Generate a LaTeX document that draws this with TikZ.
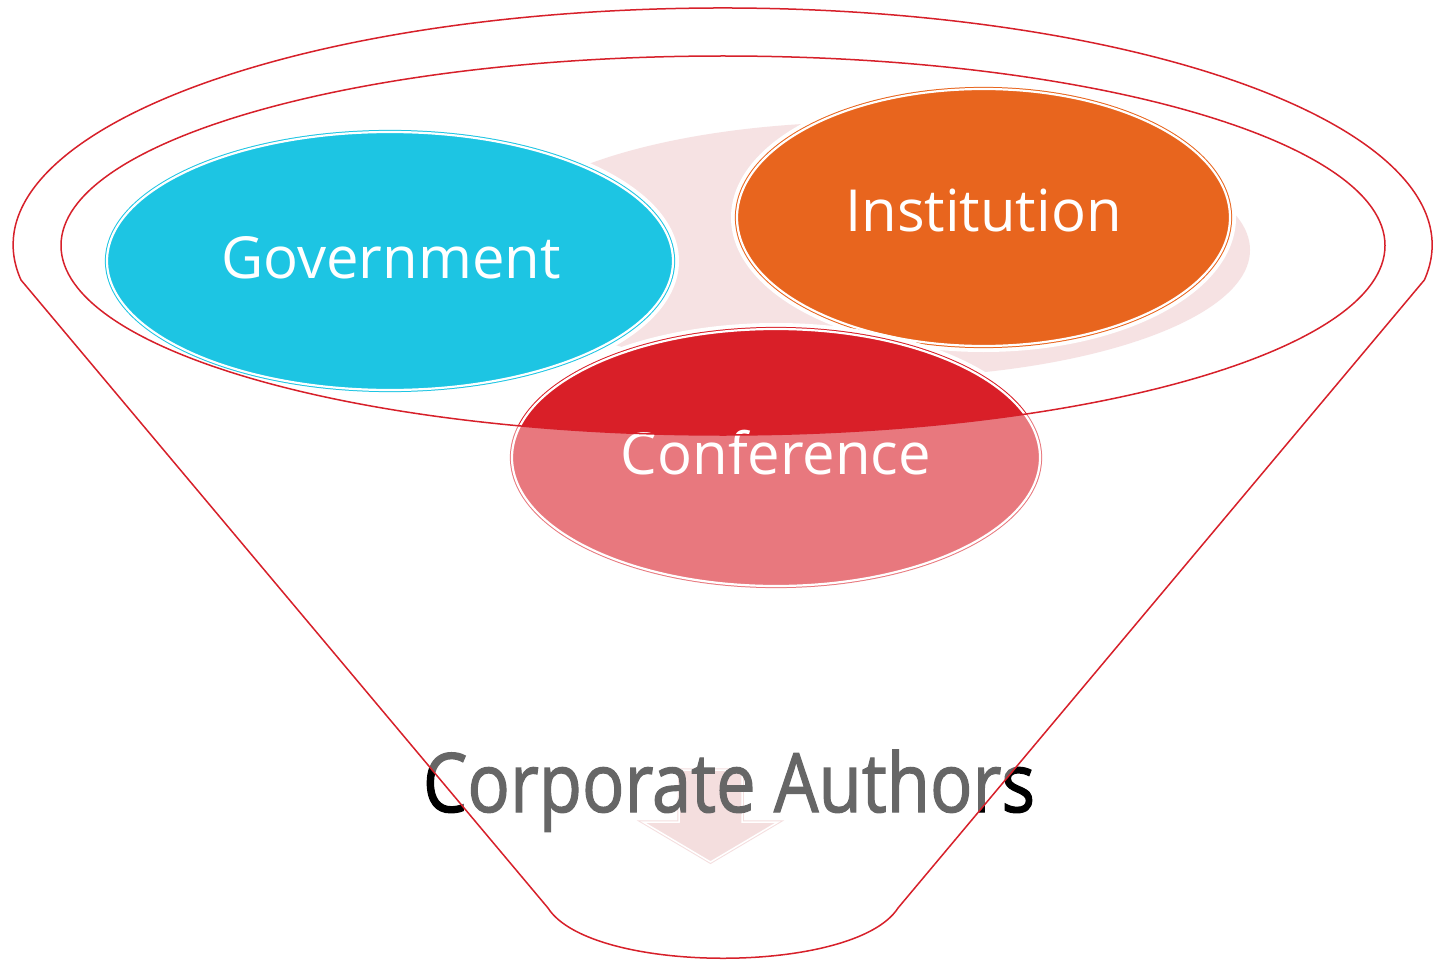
\documentclass[tikz,border=0pt]{standalone}
\usepackage{fontspec}
\usepackage{graphicx}
\setmainfont{Open Sans}
\newfontfamily\corpfont[FakeBold=1.6]{Open Sans}
\usetikzlibrary{shapes.geometric}
\definecolor{govc}{HTML}{1DC5E3}
\definecolor{instc}{HTML}{E8651E}
\definecolor{confc}{HTML}{D91F28}
\definecolor{pinkbg}{HTML}{F6E2E3}
\definecolor{arrowc}{HTML}{EEC8C9}
\definecolor{funnelred}{HTML}{D7202A}
\tikzset{
  bubble/.style={ellipse, inner sep=0pt, line width=1pt, double=white, double distance=2.2pt},
  halo/.style={draw=white, line width=12pt},
  bubbletext/.style={anchor=base, text=white, font=\fontsize{58}{64}\selectfont},
  funnelline/.style={draw=funnelred, line width=1.5pt},
}
\begin{document}
\begin{tikzpicture}[x=1pt,y=-1pt]
\useasboundingbox (0,0) rectangle (1437,960);
\fill[white] (0,0) rectangle (1437,960);
% pale background shape
\fill[pinkbg] (870,250) ellipse [x radius=380pt, y radius=128pt];
% Government
\draw[halo] (390,261) ellipse [x radius=283pt, y radius=129pt];
\node[bubble, fill=govc, draw=govc, minimum width=566pt, minimum height=258pt] (gov) at (390,261) {};
\node[bubbletext] (govt) at (391,278) {Government};
% Institution
\draw[halo] (983.5,217.5) ellipse [x radius=246.5pt, y radius=128.5pt];
\node[bubble, fill=instc, draw=instc, minimum width=493pt, minimum height=257pt] (inst) at (983.5,217.5) {};
\node[bubbletext] (instt) at (983.5,232) {Institution};
% Conference
\draw[halo] (776,457.5) ellipse [x radius=264pt, y radius=128.5pt];
\node[bubble, fill=confc, draw=confc, minimum width=528pt, minimum height=257pt] (conf) at (776,457.5) {};
\node[bubbletext] (conft) at (776,474) {Conference};
% down arrow
\draw[fill=arrowc, draw=arrowc, line width=1pt, double=white, double distance=1.5pt]
  (680,770) -- (742,770) -- (742,822) -- (778,822) -- (710.5,862) -- (643,822) -- (679,822) -- cycle;
% label
\node[anchor=base, text=black, font=\corpfont\fontsize{82}{90}\selectfont] (corp) at (729,812) {\scalebox{0.86}[1]{Corporate Authors}};
% translucent funnel body
\fill[white, fill opacity=0.4, even odd rule]
  (21,280) arc[start angle=188.5, end angle=-8.5, x radius=709.5pt, y radius=237pt]
  -- (898,908) .. controls (855,975) and (591,975) .. (548,908) -- cycle
  (723,245.5) ellipse [x radius=662pt, y radius=189.5pt];
% funnel outlines
\draw[funnelline]
  (21,280) arc[start angle=188.5, end angle=-8.5, x radius=709.5pt, y radius=237pt]
  -- (898,908) .. controls (855,975) and (591,975) .. (548,908) -- cycle;
\draw[funnelline] (723,245.5) ellipse [x radius=662pt, y radius=189.5pt];
\end{tikzpicture}
\end{document}
